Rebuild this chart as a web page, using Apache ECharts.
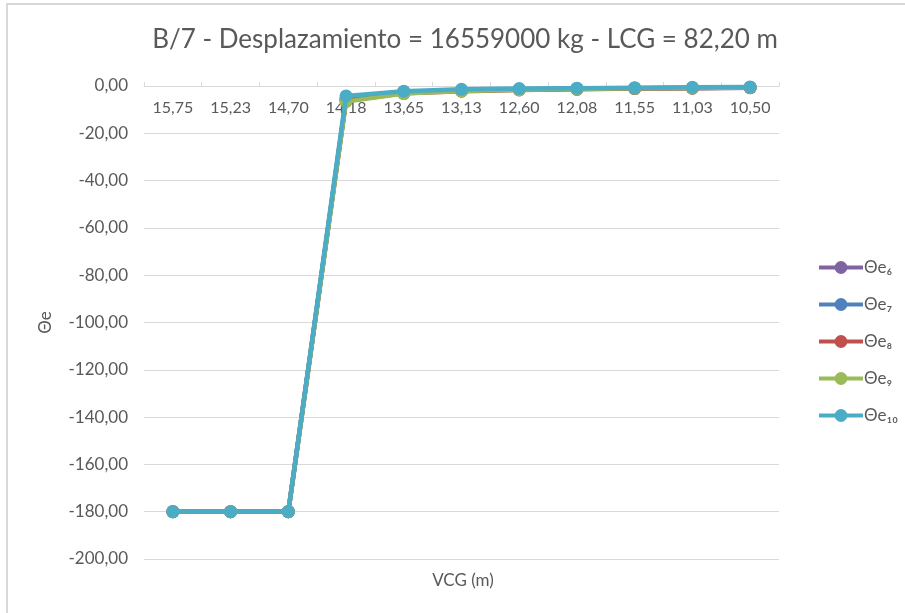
<!DOCTYPE html>
<html>
<head>
<meta charset="utf-8">
<script src="https://cdn.jsdelivr.net/npm/echarts@6/dist/echarts.min.js"></script>
<style>
  html, body { margin: 0; padding: 0; background: #fff; }
  #frame { position: absolute; left: 6px; top: 3px; width: 1000px; height: 1000px;
           border-left: 2px solid #d9d9d9; border-top: 2px solid #d9d9d9; }
  #chart { position: absolute; left: 0; top: 0; width: 905px; height: 613px; }
</style>
</head>
<body>
<div id="frame"></div>
<div id="chart"></div>
<script>
// VCG values (m) along the category axis
const vcg = ['15,75', '15,23', '14,70', '14,18', '13,65', '13,13', '12,60', '12,08', '11,55', '11,03', '10,50'];

// Equilibrium heel angle for each loading case
const thetaE6  = [-180, -180, -180, -5.5, -2.6, -1.8, -1.4, -1.2, -1.0, -0.8, -0.6];
const thetaE7  = [-180, -180, -180, -5.8, -2.8, -1.9, -1.5, -1.2, -1.0, -0.8, -0.7];
const thetaE8  = [-180, -180, -180, -6.2, -3.1, -2.2, -1.7, -1.4, -1.1, -0.9, -0.7];
const thetaE9  = [-180, -180, -180, -6.6, -3.2, -2.1, -1.6, -1.3, -1.0, -0.8, -0.6];
const thetaE10 = [-180, -180, -180, -4.2, -2.2, -1.4, -1.1, -0.9, -0.7, -0.55, -0.4];

const seriesNames = ['Θe₆', 'Θe₇', 'Θe₈', 'Θe₉', 'Θe₁₀'];
const seriesData = [thetaE6, thetaE7, thetaE8, thetaE9, thetaE10];
const colors = ['#8064A2', '#4F81BD', '#C0504D', '#9BBB59', '#4BACC6'];

const font = 'Lato, "Open Sans", sans-serif';
const textColor = '#595959';
const chart = echarts.init(document.getElementById('chart'));

chart.setOption({
  animation: false,
  color: colors,
  title: [
    {
      text: 'B/7 - Desplazamiento = 16559000 kg - LCG = 82,20 m',
      left: 460, top: 22, textAlign: 'center',
      textStyle: { fontFamily: font, fontSize: 26, fontWeight: 'normal', color: textColor }
    },
    {
      text: 'VCG (m)',
      left: 458, top: 567, textAlign: 'center',
      textStyle: { fontFamily: font, fontSize: 17, fontWeight: 'normal', color: textColor }
    }
  ],
  legend: {
    orient: 'vertical',
    left: 812, top: 254,
    itemWidth: 44, itemHeight: 16, itemGap: 20,
    lineStyle: { width: 4 },
    textStyle: { fontFamily: font, fontSize: 17, color: textColor, padding: [0, 0, 0, -4] },
    data: seriesNames
  },
  grid: { left: 144, right: 126, top: 86, bottom: 54 },
  xAxis: {
    type: 'category',
    position: 'top',
    data: vcg,
    boundaryGap: true,
    axisLine: { onZero: false, lineStyle: { color: '#d9d9d9', width: 1 } },
    axisTick: { show: true, inside: false, length: 4, lineStyle: { color: '#d9d9d9' } },
    axisLabel: { inside: true, fontFamily: font, fontSize: 16, color: textColor, margin: 14 },
    splitLine: { show: false }
  },
  yAxis: {
    type: 'value',
    min: -200, max: 0, interval: 20,
    name: 'Θe',
    nameLocation: 'middle',
    nameRotate: 90,
    nameGap: 90,
    nameTextStyle: { fontFamily: font, fontSize: 17, color: textColor },
    axisLine: { show: false },
    axisTick: { show: false },
    axisLabel: {
      fontFamily: font, fontSize: 17, color: textColor, margin: 16,
      formatter: v => v.toFixed(2).replace('.', ',')
    },
    splitLine: { lineStyle: { color: '#d9d9d9', width: 1 } }
  },
  series: seriesNames.map((name, i) => ({
    name,
    type: 'line',
    data: seriesData[i],
    symbol: 'circle',
    symbolSize: 13,
    lineStyle: { width: 4.5, color: colors[i] },
    itemStyle: { color: colors[i] },
    z: 2 + i
  }))
});
</script>
</body>
</html>
